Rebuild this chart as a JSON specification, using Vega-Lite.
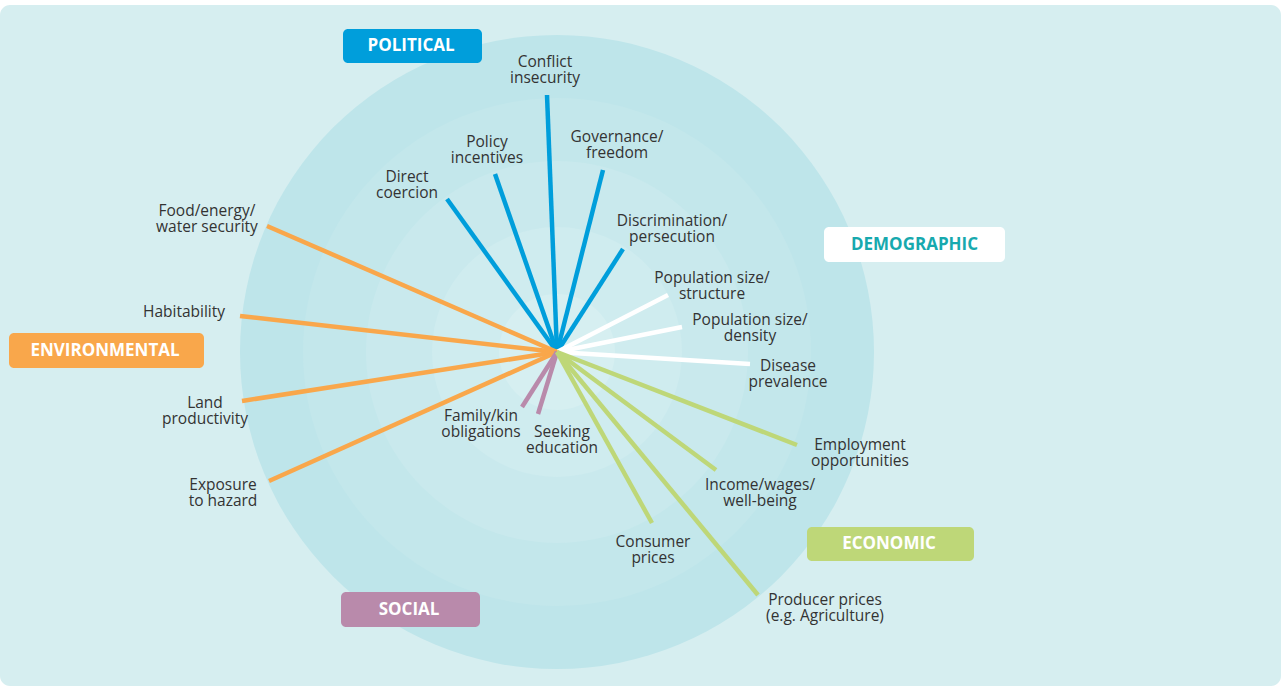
{
  "$schema": "https://vega.github.io/schema/vega-lite/v6.json",
  "width": 1281,
  "height": 686,
  "autosize": {"type": "fit", "contains": "padding"},
  "padding": {"left": 0, "top": 5, "right": 0, "bottom": 0},
  "background": "#ffffff",
  "config": {"view": {"stroke": null, "fill": "#d6eef0", "cornerRadius": 10}},
  "datasets": {
    "rings": [
      {"ring": 1, "r": 317},
      {"ring": 2, "r": 254},
      {"ring": 3, "r": 191},
      {"ring": 4, "r": 125},
      {"ring": 5, "r": 58}
    ],
    "factors": [
      {"label": ["Conflict", "insecurity"], "cat": "Political", "ex": -10, "ey": 257, "lx": -12, "ly": 290.5},
      {"label": ["Policy", "incentives"], "cat": "Political", "ex": -62, "ey": 178, "lx": -70, "ly": 210.5},
      {"label": ["Governance/", "freedom"], "cat": "Political", "ex": 46, "ey": 182, "lx": 60, "ly": 215},
      {"label": ["Direct", "coercion"], "cat": "Political", "ex": -110, "ey": 153, "lx": -150, "ly": 175},
      {"label": ["Discrimination/", "persecution"], "cat": "Political", "ex": 66, "ey": 103, "lx": 115, "ly": 131},
      {"label": ["Population size/", "structure"], "cat": "Demographic", "ex": 111, "ey": 57, "lx": 155, "ly": 74},
      {"label": ["Population size/", "density"], "cat": "Demographic", "ex": 125, "ey": 25, "lx": 193, "ly": 32},
      {"label": ["Disease", "prevalence"], "cat": "Demographic", "ex": 193, "ey": -12, "lx": 231, "ly": -14},
      {"label": ["Food/energy/", "water security"], "cat": "Environmental", "ex": -290, "ey": 126, "lx": -350, "ly": 141},
      {"label": ["Habitability"], "cat": "Environmental", "ex": -317, "ey": 36, "lx": -373, "ly": 40},
      {"label": ["Land", "productivity"], "cat": "Environmental", "ex": -315, "ey": -49, "lx": -352, "ly": -51},
      {"label": ["Exposure", "to hazard"], "cat": "Environmental", "ex": -288, "ey": -129, "lx": -334, "ly": -133},
      {"label": ["Family/kin", "obligations"], "cat": "Social", "ex": -35, "ey": -55, "lx": -76, "ly": -63.5},
      {"label": ["Seeking", "education"], "cat": "Social", "ex": -19, "ey": -62, "lx": 5, "ly": -79.5},
      {"label": ["Employment", "opportunities"], "cat": "Economic", "ex": 240, "ey": -93, "lx": 303, "ly": -93},
      {"label": ["Income/wages/", "well-being"], "cat": "Economic", "ex": 159, "ey": -118, "lx": 203, "ly": -133},
      {"label": ["Consumer", "prices"], "cat": "Economic", "ex": 95, "ey": -171, "lx": 96, "ly": -190},
      {"label": ["Producer prices", "(e.g. Agriculture)"], "cat": "Economic", "ex": 201, "ey": -243, "lx": 268, "ly": -248}
    ],
    "boxes": [
      {"name": "POLITICAL", "cat": "Political", "bx1": -214, "bx2": -75, "by1": 289, "by2": 323, "cx": -146, "cy": 306},
      {"name": "DEMOGRAPHIC", "cat": "Demographic", "bx1": 267, "bx2": 448, "by1": 90, "by2": 125, "cx": 357.5, "cy": 107.5},
      {"name": "ENVIRONMENTAL", "cat": "Environmental", "bx1": -548, "bx2": -353, "by1": -16, "by2": 19, "cx": -452, "cy": 1.5},
      {"name": "ECONOMIC", "cat": "Economic", "bx1": 250, "bx2": 417, "by1": -209, "by2": -175, "cx": 332, "cy": -192},
      {"name": "SOCIAL", "cat": "Social", "bx1": -216, "bx2": -77, "by1": -275, "by2": -240, "cx": -148, "cy": -257.5}
    ]
  },
  "layer": [
    {
      "data": {"name": "rings"},
      "mark": {"type": "point", "shape": "circle", "filled": true, "opacity": 1, "strokeWidth": 0},
      "encoding": {
        "x": {"datum": 0, "type": "quantitative", "scale": {"domain": [-557, 724], "nice": false, "zero": false}, "axis": null},
        "y": {"datum": 0, "type": "quantitative", "scale": {"domain": [-334, 347], "nice": false, "zero": false}, "axis": null},
        "size": {"field": "r", "type": "quantitative", "scale": {"type": "pow", "exponent": 2, "domain": [0, 317], "range": [0, 401956]}, "legend": null},
        "color": {"field": "ring", "type": "ordinal", "scale": {"domain": [1, 2, 3, 4, 5], "range": ["#bee5ea", "#c3e7eb", "#c9e9ed", "#cfecef", "#d6eff1"]}, "legend": null}
      }
    },
    {
      "data": {"name": "factors"},
      "mark": {"type": "rule", "strokeWidth": 4.5, "strokeCap": "butt"},
      "encoding": {
        "x": {"field": "ex", "type": "quantitative", "scale": {"domain": [-557, 724], "nice": false, "zero": false}, "axis": null},
        "y": {"field": "ey", "type": "quantitative", "scale": {"domain": [-334, 347], "nice": false, "zero": false}, "axis": null},
        "x2": {"datum": 0},
        "y2": {"datum": 0},
        "stroke": {"field": "cat", "type": "nominal", "scale": {"domain": ["Political", "Demographic", "Environmental", "Social", "Economic"], "range": ["#009edb", "#ffffff", "#f9a74b", "#b98aab", "#bed778"]}, "legend": null}
      }
    },
    {
      "data": {"name": "factors"},
      "mark": {"type": "text", "font": "Open Sans", "fontSize": 15.5, "letterSpacing": 0.5, "lineHeight": 16, "color": "#333333", "align": "center", "baseline": "middle"},
      "encoding": {
        "x": {"field": "lx", "type": "quantitative", "scale": {"domain": [-557, 724], "nice": false, "zero": false}, "axis": null},
        "y": {"field": "ly", "type": "quantitative", "scale": {"domain": [-334, 347], "nice": false, "zero": false}, "axis": null},
        "text": {"field": "label", "type": "nominal"}
      }
    },
    {
      "data": {"name": "boxes"},
      "mark": {"type": "rect", "cornerRadius": 5},
      "encoding": {
        "x": {"field": "bx1", "type": "quantitative", "scale": {"domain": [-557, 724], "nice": false, "zero": false}, "axis": null},
        "x2": {"field": "bx2"},
        "y": {"field": "by1", "type": "quantitative", "scale": {"domain": [-334, 347], "nice": false, "zero": false}, "axis": null},
        "y2": {"field": "by2"},
        "fill": {"field": "cat", "type": "nominal", "scale": {"domain": ["Political", "Demographic", "Environmental", "Social", "Economic"], "range": ["#009edb", "#ffffff", "#f9a74b", "#b98aab", "#bed778"]}, "legend": null}
      }
    },
    {
      "data": {"name": "boxes"},
      "mark": {"type": "text", "font": "Open Sans", "fontSize": 17, "fontWeight": "bold", "letterSpacing": 2.2, "align": "center", "baseline": "middle"},
      "encoding": {
        "x": {"field": "cx", "type": "quantitative", "scale": {"domain": [-557, 724], "nice": false, "zero": false}, "axis": null},
        "y": {"field": "cy", "type": "quantitative", "scale": {"domain": [-334, 347], "nice": false, "zero": false}, "axis": null},
        "text": {"field": "name", "type": "nominal"},
        "color": {"condition": {"test": "datum.cat === 'Demographic'", "value": "#17a9ae"}, "value": "#ffffff"}
      }
    }
  ]
}
